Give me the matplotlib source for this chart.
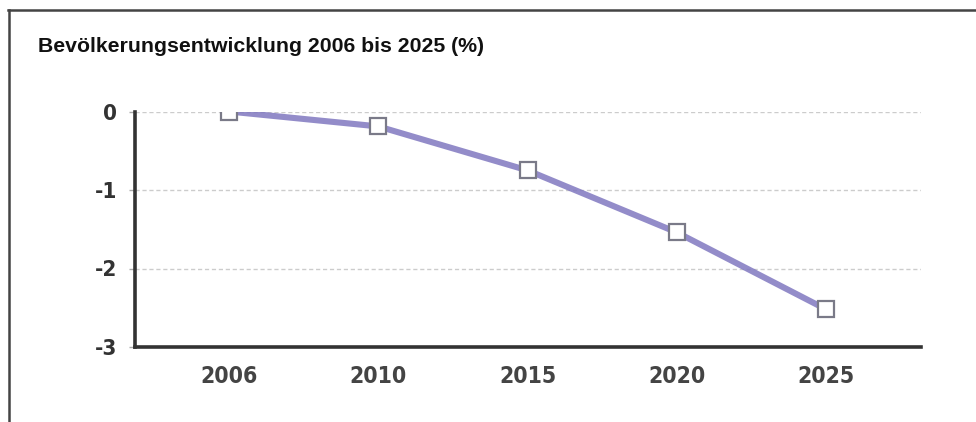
import matplotlib
matplotlib.use("Agg")
import matplotlib.pyplot as plt
from matplotlib.lines import Line2D

years = ["2006", "2010", "2015", "2020", "2025"]
values = [0.0, -0.19, -0.75, -1.54, -2.52]
yticks = [0, -1, -2, -3]
title = "Bevölkerungsentwicklung 2006 bis 2025 (%)"

fig = plt.figure(figsize=(9.76, 4.22), dpi=100)
fig.patch.set_facecolor("white")

# outer frame (top and left edges)
fig.add_artist(Line2D([8/976, 1.0], [1-9.5/422, 1-9.5/422], color="#444444", lw=1.8, transform=fig.transFigure))
fig.add_artist(Line2D([8.5/976, 8.5/976], [0, 1-9.5/422], color="#444444", lw=1.8, transform=fig.transFigure))

fig.text(38/976, 1-47/422, title, fontsize=15.3, fontweight="bold",
         family="Liberation Sans", color="#111111", va="center", ha="left")

ax = fig.add_axes([135/976, 1-347/422, (921-135)/976, (347-111.5)/422])
x = list(range(len(years)))
ax.plot(x, values, color="#8078c0", lw=4.4, solid_capstyle="round", zorder=3, alpha=0.85)
ax.plot(x, values, ls="none", marker="s", markersize=11, markerfacecolor="white",
        markeredgecolor="#7a7a88", markeredgewidth=1.6, zorder=4)

ax.set_xlim(-0.63, 4.636)
ax.set_ylim(-3, 0)
ax.set_xticks(x)
ax.set_xticklabels(years)
ax.set_yticks(yticks)
ax.set_yticklabels([str(v) if v == 0 else "-" + str(-v) for v in yticks])

for s in ["top", "right"]:
    ax.spines[s].set_visible(False)
for s in ["left", "bottom"]:
    ax.spines[s].set_color("#333333")
    ax.spines[s].set_linewidth(2.6)

ax.tick_params(axis="x", length=0, pad=13, labelsize=16.5, labelcolor="#444444")
ax.tick_params(axis="y", length=4, width=1, color="#aaaaaa", pad=9, labelsize=16, labelcolor="#333333")
for lab in ax.get_xticklabels() + ax.get_yticklabels():
    lab.set_family("DejaVu Sans")
    lab.set_stretch("condensed")
    lab.set_weight("bold")

for v in [0, -1, -2]:
    ax.axhline(v, color="#cccccc", lw=1, ls=(0, (3, 2)), zorder=1)

fig.savefig("out.png", dpi=100, facecolor="white")
